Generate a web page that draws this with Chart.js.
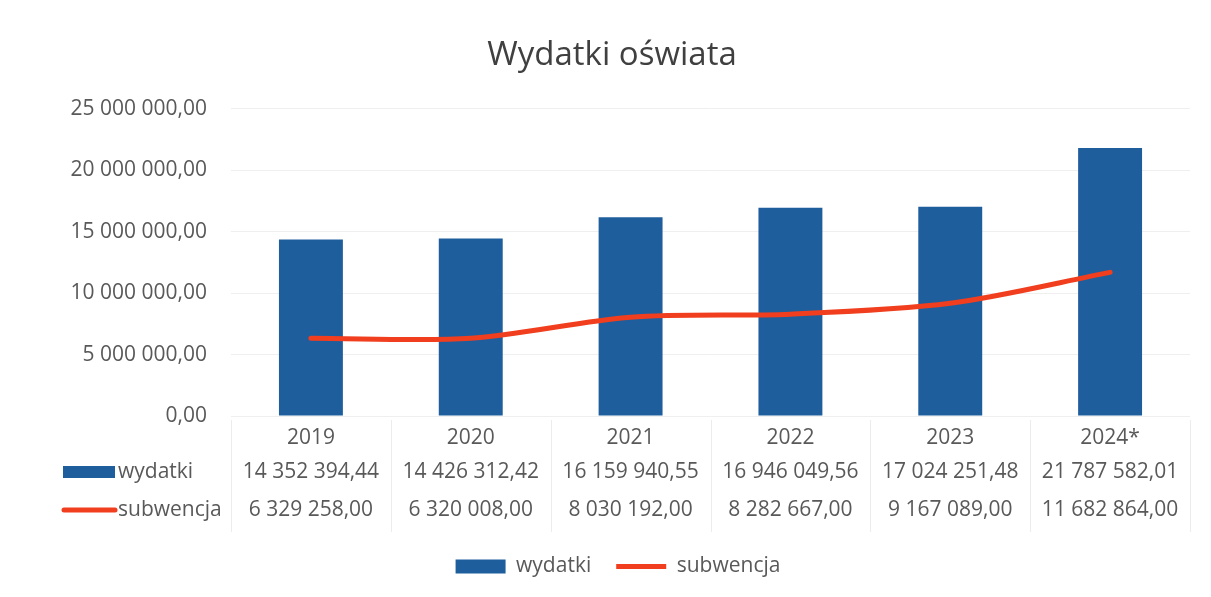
<!DOCTYPE html>
<html>
<head>
<meta charset="utf-8">
<script src="https://cdn.jsdelivr.net/npm/chart.js@4.4.1/dist/chart.umd.min.js"></script>
<style>
html,body{margin:0;padding:0;background:#fff;}
#wrap{width:1211px;height:597px;position:relative;}
</style>
</head>
<body>
<div id="wrap"><canvas id="c" width="1211" height="597"></canvas></div>
<script>
const categories = ['2019', '2020', '2021', '2022', '2023', '2024*'];
const wydatki = [14352394.44, 14426312.42, 16159940.55, 16946049.56, 17024251.48, 21787582.01];
const subwencja = [6329258.00, 6320008.00, 8030192.00, 8282667.00, 9167089.00, 11682864.00];
const seriesNames = ['wydatki', 'subwencja'];
const chartTitle = 'Wydatki oświata';

const BLUE = '#1f5e9c';
const RED = '#f03e1e';
const TEXT = '#595959';
const FONT = "'Open Sans', sans-serif";

function fmt(v) {
  const s = Math.abs(v).toFixed(2).split('.');
  const intPart = s[0].replace(/\B(?=(\d{3})+(?!\d))/g, ' ');
  return (v < 0 ? '-' : '') + intPart + ',' + s[1];
}

const shiftPlugin = {
  id: 'shiftBlocks',
  afterLayout(chart) {
    if (chart.titleBlock) { chart.titleBlock.left += 17; chart.titleBlock.right += 17; }
    if (chart.legend) { chart.legend.left += 23; chart.legend.right += 23; }
  }
};

const tablePlugin = {
  id: 'dataTable',
  afterDraw(chart) {
    const ctx = chart.ctx;
    const xs = chart.scales.x;
    const area = chart.chartArea;
    const n = categories.length;
    const colW = (xs.right - xs.left) / n;
    ctx.save();
    // vertical separators
    ctx.strokeStyle = '#ececec';
    ctx.lineWidth = 1;
    for (let i = 0; i <= n; i++) {
      const x = Math.round(xs.left + i * colW) + 0.5;
      ctx.beginPath();
      ctx.moveTo(x, area.bottom + 4);
      ctx.lineTo(x, area.bottom + 116);
      ctx.stroke();
    }
    ctx.font = '21px ' + FONT;
    ctx.fillStyle = TEXT;
    ctx.textBaseline = 'middle';
    ctx.textAlign = 'center';
    const rows = [wydatki, subwencja];
    const rowY = [area.bottom + 56, area.bottom + 94];
    rows.forEach((arr, r) => {
      arr.forEach((v, i) => {
        ctx.fillText(fmt(v), xs.getPixelForValue(i), rowY[r]);
      });
    });
    // row headers
    ctx.textAlign = 'left';
    ctx.fillStyle = BLUE;
    ctx.fillRect(63, rowY[0] - 6, 52, 12);
    ctx.fillStyle = TEXT;
    ctx.fillText(seriesNames[0], 118, rowY[0]);
    ctx.strokeStyle = RED;
    ctx.lineWidth = 5;
    ctx.lineCap = 'round';
    ctx.beginPath();
    ctx.moveTo(64, rowY[1]);
    ctx.lineTo(115, rowY[1]);
    ctx.stroke();
    ctx.fillText(seriesNames[1], 118, rowY[1]);
    ctx.restore();
  }
};

new Chart(document.getElementById('c'), {
  type: 'bar',
  data: {
    labels: categories,
    datasets: [
      {
        type: 'line',
        label: seriesNames[1],
        data: subwencja,
        borderColor: RED,
        backgroundColor: RED,
        borderWidth: 5,
        pointRadius: 0,
        tension: 0.3,
        borderCapStyle: 'round',
        order: 0
      },
      {
        type: 'bar',
        label: seriesNames[0],
        data: wydatki,
        backgroundColor: BLUE,
        borderWidth: 0,
        categoryPercentage: 1,
        barPercentage: 0.4,
        order: 1
      }
    ]
  },
  plugins: [shiftPlugin, tablePlugin],
  options: {
    responsive: false,
    animation: false,
    layout: { padding: { left: 0, right: 21, top: 36, bottom: 10 } },
    plugins: {
      tooltip: { enabled: false },
      title: {
        display: true,
        text: chartTitle,
        color: '#404040',
        font: { family: FONT, size: 33, weight: 'normal' },
        padding: { top: 0, bottom: 33 }
      },
      legend: {
        position: 'bottom',
        reverse: true,
        labels: {
          color: TEXT,
          font: { family: FONT, size: 21 },
          usePointStyle: true,
          pointStyleWidth: 50,
          boxHeight: 14,
          padding: 25,
          generateLabels(chart) {
            const items = Chart.defaults.plugins.legend.labels.generateLabels(chart);
            items.forEach(it => {
              const ds = chart.data.datasets[it.datasetIndex];
              if (ds.type === 'line') { it.pointStyle = 'line'; it.lineWidth = 5; it.strokeStyle = RED; }
              else { it.pointStyle = 'rect'; it.lineWidth = 0; it.fillStyle = BLUE; it.strokeStyle = BLUE; }
            });
            return items;
          }
        }
      }
    },
    scales: {
      x: {
        grid: { display: false, drawTicks: false },
        border: { display: false },
        ticks: { color: TEXT, font: { family: FONT, size: 21 }, padding: 9, maxRotation: 0 },
        afterFit(scale) { scale.height = 115; }
      },
      y: {
        min: 0,
        max: 25000000,
        grid: { color: '#efefef', drawTicks: false },
        border: { display: false },
        ticks: {
          stepSize: 5000000,
          color: TEXT,
          font: { family: FONT, size: 21 },
          padding: 24,
          callback: v => fmt(v)
        },
        afterFit(scale) { scale.width = 231; }
      }
    }
  }
});
</script>
</body>
</html>
